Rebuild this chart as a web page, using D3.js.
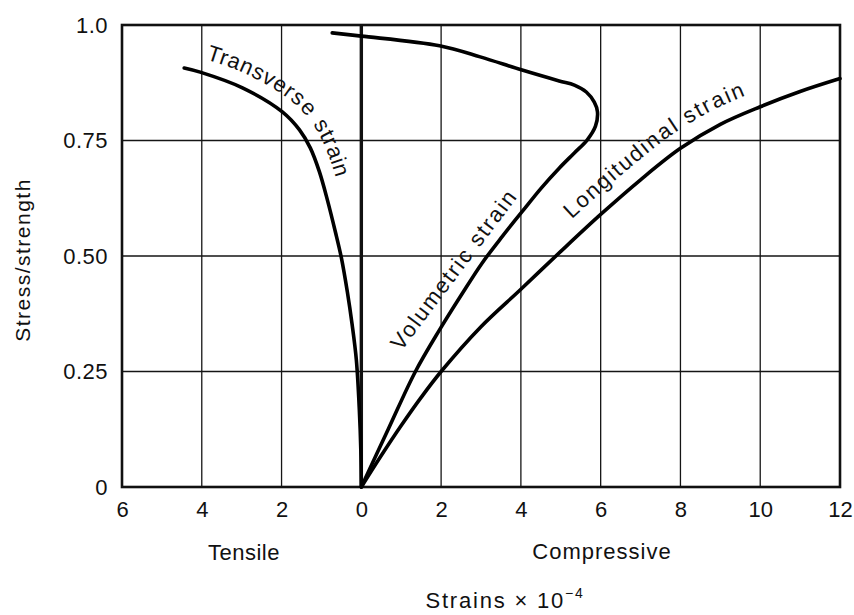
<!DOCTYPE html>
<html>
<head>
<meta charset="utf-8">
<script src="https://cdn.jsdelivr.net/npm/d3@7"></script>
<style>
  body { margin: 0; background: #fff; }
  text { font-family: "Liberation Sans", Arial, sans-serif; fill: #111; }
</style>
</head>
<body>
<div id="chart"></div>
<script>
// strains x 10^-4 (negative = tensile), stress as a fraction of strength
var xTicks = [-6, -4, -2, 0, 2, 4, 6, 8, 10, 12];
var yTicks = [0, 0.25, 0.5, 0.75, 1.0];
var yTickLabels = ["0", "0.25", "0.50", "0.75", "1.0"];

var transverseX = [-4.44, -4.04, -2.98, -1.98, -1.55, -1.28, -1.05, -0.85, -0.65, -0.5, -0.35, -0.23, -0.125, -0.05, -0.013, 0];
var transverseY = [0.907, 0.898, 0.864, 0.812, 0.773, 0.734, 0.682, 0.621, 0.552, 0.496, 0.422, 0.351, 0.275, 0.167, 0.08, 0];

var volumetricX = [0, 0.68, 1.35, 1.96, 2.51, 3.03, 3.54, 4.04, 4.51, 4.96, 5.34, 5.66, 5.87, 5.92, 5.84, 5.64, 5.34, 4.96, 4.01, 2.98, 1.96, 0, -0.73];
var volumetricY = [0, 0.126, 0.249, 0.34, 0.416, 0.485, 0.543, 0.597, 0.647, 0.69, 0.723, 0.751, 0.781, 0.812, 0.833, 0.855, 0.87, 0.879, 0.903, 0.931, 0.955, 0.976, 0.983];

var longitudinalX = [0, 0.5, 1.0, 1.5, 2.0, 3.0, 4.0, 5.0, 6.0, 7.0, 8.0, 9.0, 10.0, 11.0, 12.0];
var longitudinalY = [0, 0.068, 0.133, 0.194, 0.25, 0.347, 0.428, 0.51, 0.59, 0.665, 0.733, 0.785, 0.823, 0.856, 0.884];

var margin = {top: 25, right: 14, bottom: 128, left: 122},
  width = 854 - margin.left - margin.right,
  height = 615 - margin.top - margin.bottom;

var svg = d3.select("#chart")
.append("svg")
  .attr("width", width + margin.left + margin.right)
  .attr("height", height + margin.top + margin.bottom)
.append("g")
  .attr("transform", "translate(" + margin.left + "," + margin.top + ")");

var x = d3.scaleLinear().domain([-6, 12]).range([0, width]);
var y = d3.scaleLinear().domain([0, 1]).range([height, 0]);

// grid
svg.selectAll(".vgrid")
  .data(xTicks.filter(function(d){ return d > -6 && d < 12 && d !== 0; }))
  .enter().append("line")
    .attr("x1", function(d){ return x(d); })
    .attr("x2", function(d){ return x(d); })
    .attr("y1", 0)
    .attr("y2", height)
    .attr("stroke", "#151515")
    .attr("stroke-width", 1.3);

svg.selectAll(".hgrid")
  .data(yTicks.filter(function(d){ return d > 0 && d < 1; }))
  .enter().append("line")
    .attr("x1", 0)
    .attr("x2", width)
    .attr("y1", function(d){ return y(d); })
    .attr("y2", function(d){ return y(d); })
    .attr("stroke", "#151515")
    .attr("stroke-width", 1.3);

// frame
svg.append("rect")
  .attr("x", 0).attr("y", 0)
  .attr("width", width).attr("height", height)
  .attr("fill", "none")
  .attr("stroke", "#111")
  .attr("stroke-width", 2.6);

// zero strain line
svg.append("line")
  .attr("x1", x(0)).attr("x2", x(0))
  .attr("y1", 0).attr("y2", height)
  .attr("stroke", "#111")
  .attr("stroke-width", 3.4);

// axes
var xAxis = svg.append("g")
  .attr("transform", "translate(0," + height + ")")
  .call(d3.axisBottom(x).tickValues(xTicks)
    .tickFormat(function(d){ return Math.abs(d); })
    .tickSize(0).tickPadding(14));
xAxis.select(".domain").remove();
xAxis.selectAll("text")
  .attr("font-size", 22)
  .attr("font-family", "Liberation Sans, Arial, sans-serif")
  .attr("fill", "#111");

var yAxis = svg.append("g")
  .call(d3.axisLeft(y).tickValues(yTicks)
    .tickFormat(function(d, i){ return yTickLabels[i]; })
    .tickSize(0).tickPadding(14));
yAxis.select(".domain").remove();
yAxis.selectAll("text")
  .attr("font-size", 22)
  .attr("letter-spacing", 0.5)
  .attr("font-family", "Liberation Sans, Arial, sans-serif")
  .attr("fill", "#111");

// curves
var line = d3.line()
  .x(function(d){ return x(d[0]); })
  .y(function(d){ return y(d[1]); })
  .curve(d3.curveCatmullRom.alpha(0.5));

var curves = [
  {id: "transverse", data: d3.zip(transverseX, transverseY)},
  {id: "volumetric", data: d3.zip(volumetricX, volumetricY)},
  {id: "longitudinal", data: d3.zip(longitudinalX, longitudinalY)}
];

svg.selectAll(".curve")
  .data(curves)
  .enter().append("path")
    .attr("id", function(d){ return d.id; })
    .attr("d", function(d){ return line(d.data); })
    .attr("fill", "none")
    .attr("stroke", "#000")
    .attr("stroke-width", 3.6)
    .attr("stroke-linejoin", "round")
    .attr("stroke-linecap", "round");

// labels that bend along their curve
var pathLabels = [
  {id: "transverse", label: "Transverse strain", offset: 18, dy: -14, spacing: 0.2},
  {id: "longitudinal", label: "Longitudinal strain", offset: 340, dy: -16, spacing: 1.7}
];
var labels = svg.selectAll(".clabel")
  .data(pathLabels)
  .enter().append("text")
    .attr("font-size", 22)
    .attr("letter-spacing", function(d){ return d.spacing; });
labels.append("textPath")
    .attr("href", function(d){ return "#" + d.id; })
    .attr("startOffset", function(d){ return d.offset; })
  .append("tspan")
    .attr("dy", function(d){ return d.dy; })
    .text(function(d){ return d.label; });

// straight label beside the rising volumetric branch
svg.append("text")
  .attr("transform", "translate(" + x(1.0) + "," + y(0.293) + ") rotate(-53)")
  .attr("font-size", 22)
  .attr("letter-spacing", 1.9)
  .text("Volumetric strain");

// axis titles
svg.append("text")
  .attr("transform", "translate(" + (30 - margin.left) + "," + (260 - margin.top) + ") rotate(-90)")
  .attr("text-anchor", "middle")
  .attr("font-size", 21)
  .attr("letter-spacing", 1.5)
  .text("Stress/strength");

svg.append("text")
  .attr("x", 244 - margin.left)
  .attr("y", 560 - margin.top)
  .attr("text-anchor", "middle")
  .attr("font-size", 22)
  .attr("letter-spacing", 0.5)
  .text("Tensile");

svg.append("text")
  .attr("x", 602 - margin.left)
  .attr("y", 559 - margin.top)
  .attr("text-anchor", "middle")
  .attr("font-size", 22)
  .attr("letter-spacing", 1)
  .text("Compressive");

var title = svg.append("text")
  .attr("x", 505 - margin.left)
  .attr("y", 608 - margin.top)
  .attr("text-anchor", "middle")
  .attr("font-size", 22)
  .attr("letter-spacing", 1.8)
  .text("Strains \u00d7 10");
title.append("tspan")
  .attr("dy", -10)
  .attr("font-size", 14)
  .text("\u22124");
</script>
</body>
</html>
